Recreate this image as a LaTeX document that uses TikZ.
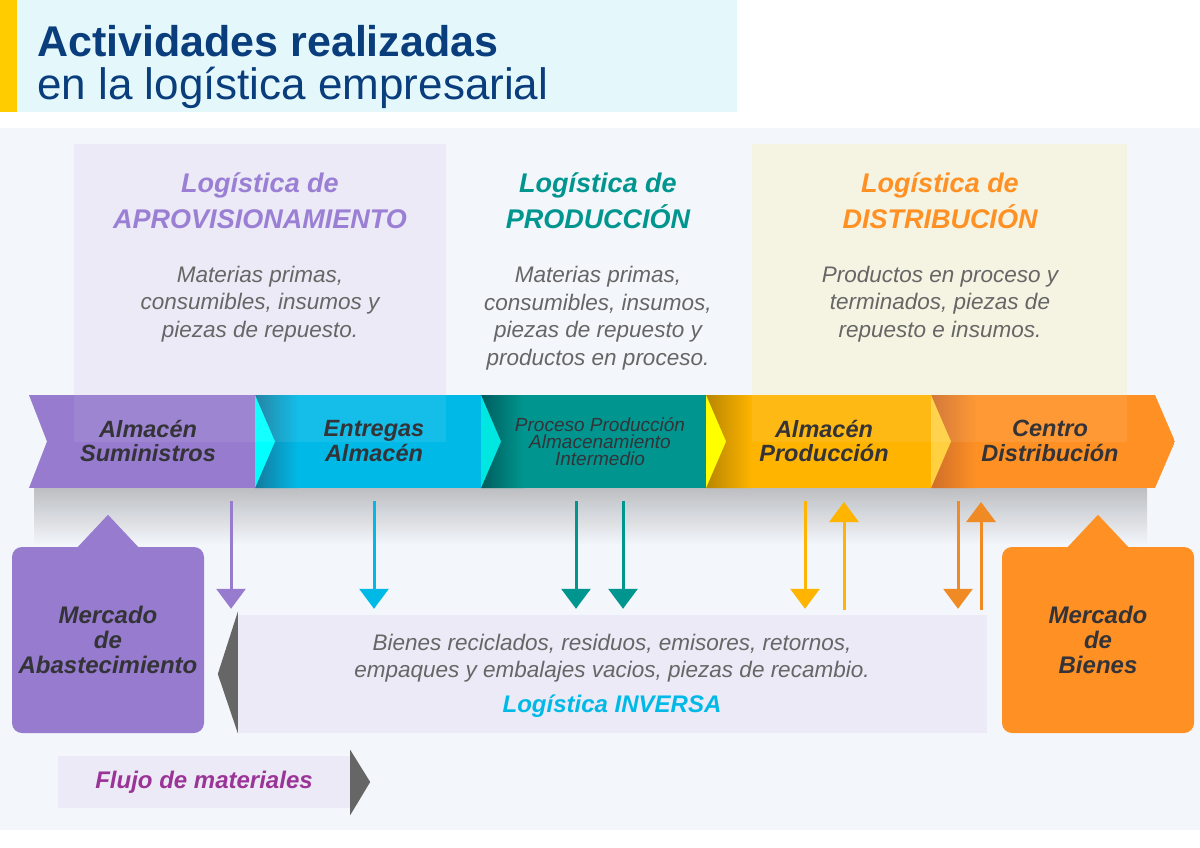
\documentclass[tikz,border=0pt]{standalone}
\usepackage{fontspec}
\setmainfont{Liberation Sans}
\usepackage{tikz}
\usetikzlibrary{arrows.meta,shapes,positioning}
\definecolor{titleblue}{HTML}{0A3D7C}
\definecolor{titlebg}{HTML}{E4F8FC}
\definecolor{gold}{HTML}{FFCC00}
\definecolor{pagebg}{HTML}{F3F6FA}
\definecolor{lavender}{HTML}{EBEAF6}
\definecolor{cream}{HTML}{F5F3E2}
\definecolor{apro}{HTML}{967BCE}
\definecolor{aprotext}{HTML}{9B7FD4}
\definecolor{entre}{HTML}{00B9E7}
\definecolor{entredk}{HTML}{147A9E}
\definecolor{entretip}{HTML}{00FFFF}
\definecolor{prod}{HTML}{00968F}
\definecolor{proddk}{HTML}{005C5E}
\definecolor{prodtip}{HTML}{00E6E0}
\definecolor{alma}{HTML}{FFB400}
\definecolor{almadk}{HTML}{B88600}
\definecolor{almatip}{HTML}{FFFF00}
\definecolor{dist}{HTML}{FF9124}
\definecolor{distdk}{HTML}{CF6E2A}
\definecolor{disttip}{HTML}{FFD040}
\definecolor{distarrow}{HTML}{F08A24}
\definecolor{ink}{HTML}{333338}
\definecolor{greytext}{HTML}{666666}
\definecolor{shadowgrey}{HTML}{BCBEC2}
\definecolor{tipgrey}{HTML}{666666}
\definecolor{flujo}{HTML}{9B3497}

\begin{document}
\begin{tikzpicture}[x=1pt,y=-1pt,inner sep=0pt,
segtext/.style={font=\bfseries\itshape\fontsize{23.5}{24.5}\selectfont,text=ink,align=center},
heading/.style={font=\bfseries\itshape\fontsize{27}{36}\selectfont,align=center},
desc/.style={font=\itshape\fontsize{22.5}{27.5}\selectfont,text=greytext,align=center},
market/.style={rounded corners=10pt,minimum width=192pt,minimum height=186pt,
  font=\bfseries\itshape\fontsize{24}{25}\selectfont,text=ink,align=center},
flowdown/.style={line width=3pt,draw=#1,-{Triangle[width=29pt,length=20pt]},shorten >=6pt},
flowup/.style={line width=3pt,draw=#1,-{Triangle[width=29pt,length=20pt]},shorten <=5pt}]
\tikzstyle{boldlabel}=[font=\bfseries\itshape\fontsize{24}{24}\selectfont,anchor=base]
\useasboundingbox (0,0) rectangle (1200,848);
\fill[white] (0,0) rectangle (1200,848);
\fill[titlebg] (0,0) rectangle (737,112);
\fill[gold] (0,0) rectangle (17,112);
\node[anchor=base west,text=titleblue,font=\bfseries\fontsize{43}{43}\selectfont] (title) at (37,57) {Actividades realizadas};
\node[anchor=base west,text=titleblue,font=\fontsize{44}{44}\selectfont] (subtitle) at (37,100) {en la logística empresarial};

\fill[pagebg] (0,128) rectangle (1200,830);
\fill[lavender] (74,144) rectangle (446,395);
\fill[cream] (752,144) rectangle (1127,395);
\shade[top color=shadowgrey,bottom color=pagebg] (34,488) rectangle (1147,545);

% cadena
\begin{scope}
\clip (29,395) -- (1155,395) -- (1175,441.5) -- (1155,488) -- (29,488) -- (47,441.5) -- cycle;
\fill[apro] (29,395) rectangle (255,488);
\fill[entre] (255,395) rectangle (481,488);
\shade[left color=entredk,right color=entre] (255,395) rectangle (298,488);
\fill[entretip] (255,395) -- (275,441.5) -- (255,488) -- cycle;
\fill[prod] (481,395) rectangle (706,488);
\shade[left color=proddk,right color=prod] (481,395) rectangle (524,488);
\fill[prodtip] (481,395) -- (501,441.5) -- (481,488) -- cycle;
\fill[alma] (706,395) rectangle (931,488);
\shade[left color=almadk,right color=alma] (706,395) rectangle (752,488);
\fill[almatip] (706,395) -- (726,441.5) -- (706,488) -- cycle;
\fill[dist] (931,395) rectangle (1175,488);
\shade[left color=distdk,right color=dist] (931,395) rectangle (977,488);
\fill[disttip] (931,395) -- (951,441.5) -- (931,488) -- cycle;
\fill[white,fill opacity=.08] (74,395) rectangle (446,442);
\fill[white,fill opacity=.08] (752,395) rectangle (1127,442);
\end{scope}

\node[segtext] (sumi) at (148,441) {Almacén\\Suministros};
\node[segtext] (entr) at (374,441) {Entregas\\Almacén};
\node[font=\itshape\fontsize{19}{17}\selectfont,text=ink,align=center] (proc) at (600,442) {Proceso Producción\\Almacenamiento\\Intermedio};
\node[segtext] (almp) at (824,441) {Almacén\\Producción};
\node[segtext] (cent) at (1050,441) {Centro\\Distribución};

\node[heading,text=aprotext] (hapro) at (260,201) {Logística de\\APROVISIONAMIENTO};
\node[heading,text=prod] (hprod) at (598,201) {Logística de\\PRODUCCIÓN};
\node[heading,text=dist] (hdist) at (940,201) {Logística de\\DISTRIBUCIÓN};
\node[desc] (dapro) at (260,304) {Materias primas,\\consumibles, insumos y\\piezas de repuesto.};
\node[desc] (dprod) at (598,318) {Materias primas,\\consumibles, insumos,\\piezas de repuesto y\\productos en proceso.};
\node[desc] (ddist) at (940,304) {Productos en proceso y\\terminados, piezas de\\repuesto e insumos.};

\node[fill=lavender,minimum width=749pt,minimum height=118pt] (inv) at (612.5,674) {};
\fill[tipgrey] ([yshift=3pt]inv.north west) -- ([xshift=-20pt]inv.west) -- (inv.south west) -- cycle;
\node[desc] (invtxt) at (612,658) {Bienes reciclados, residuos, emisores, retornos,\\empaques y embalajes vacios, piezas de recambio.};
\node[boldlabel,text=entre] (invtit) at (612,712) {Logística INVERSA};

\node[market,fill=apro] (abas) at (108,640) {Mercado\\de\\Abastecimiento};
\fill[apro] ([xshift=-31pt,yshift=-1pt]abas.north) -- ([yshift=32pt]abas.north) -- ([xshift=31pt,yshift=-1pt]abas.north) -- cycle;
\node[market,fill=dist] (bien) at (1098,640) {Mercado\\de\\Bienes};
\fill[dist] ([xshift=-31pt,yshift=-1pt]bien.north) -- ([yshift=32pt]bien.north) -- ([xshift=31pt,yshift=-1pt]bien.north) -- cycle;

\coordinate (pa) at (231,501);
\coordinate (ea) at (374,501);
\coordinate (pr1) at (576,501);
\coordinate (pr2) at (623,501);
\coordinate (al1) at (805,501);
\coordinate (al2) at (844,502);
\coordinate (di1) at (958,501);
\coordinate (di2) at (981,502);
\draw[flowdown=apro] (pa) -- (pa |- inv.north);
\draw[flowdown=entre] (ea) -- (ea |- inv.north);
\draw[flowdown=prod] (pr1) -- (pr1 |- inv.north);
\draw[flowdown=prod] (pr2) -- (pr2 |- inv.north);
\draw[flowdown=alma] (al1) -- (al1 |- inv.north);
\draw[flowup=alma] (al2 |- inv.north) -- (al2);
\draw[flowdown=distarrow] (di1) -- (di1 |- inv.north);
\draw[flowup=distarrow] (di2 |- inv.north) -- (di2);

\node[fill=lavender,minimum width=292pt,minimum height=52pt] (flujobox) at (204,782) {};
\fill[tipgrey] ([yshift=6pt]flujobox.north east) -- ([xshift=20pt]flujobox.east) -- ([yshift=-7pt]flujobox.south east) -- cycle;
\node[boldlabel,text=flujo] (flujotxt) at (204,788) {Flujo de materiales};
\end{tikzpicture}
\end{document}
